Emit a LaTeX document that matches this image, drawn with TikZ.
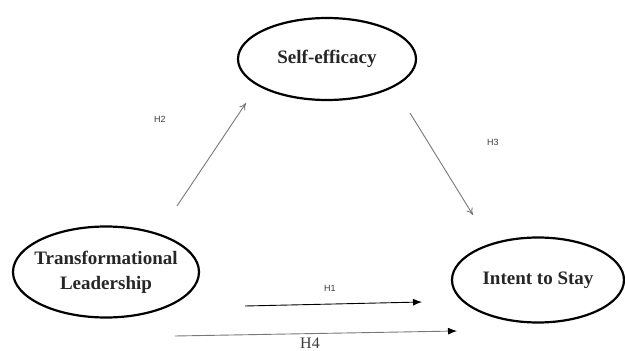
\documentclass[tikz,border=0pt]{standalone}
\usepackage{fontspec}
\setmainfont{Liberation Serif}
\newfontfamily\hlabelfont{Liberation Sans}
\usepackage{xcolor}
\definecolor{grisFlecha}{RGB}{120,120,120}
\definecolor{grisTexto}{RGB}{60,60,60}
\usepackage{tikz}
\usetikzlibrary{arrows.meta,shapes.geometric,calc,positioning}
\tikzstyle{construct}=[ellipse, draw, line width=2.2pt,
                    inner xsep=-14pt, inner ysep=0pt,
                    font=\fontsize{19}{25}\selectfont\bfseries,
                    text=black!85, align=center]
\tikzstyle{gedge}=[-{To[length=7pt,width=7pt]}, grisFlecha,
                    line width=0.9pt]
\tikzstyle{bedge}=[-{Latex[length=9pt,width=7pt,black]},
                    line width=0.9pt]
\tikzstyle{hlabel}=[font=\hlabelfont\fontsize{9}{10}\selectfont,
                    text=grisTexto, inner sep=0pt]

\begin{document}
\begin{tikzpicture}[x=1pt,y=-1pt]
    \useasboundingbox (0,0) rectangle (625,351);

    % constructos
    \node (trans)[construct, minimum width=186pt, minimum height=91pt]
        at (106,272) {Transformational\\Leadership};
    \node (self)[construct, minimum width=178pt, minimum height=82pt]
        at (327,59) {Self-efficacy};
    \node (intent)[construct, minimum width=172pt, minimum height=85pt]
        at (538,280) {Intent to Stay};

    % extremos de las flechas
    \foreach \n/\x/\y in {h2s/177/206, h2e/246/103, h3s/410/113, h3e/473/215,
                          h1s/245/306, h1e/422/302, h4s/175/336, h4e/457/331}
        \coordinate (\n) at (\x,\y);

    \foreach \i/\j in {h2s/h2e, h3s/h3e}
        \draw [gedge] (\i) to (\j);
    \draw [bedge] (h1s) to (h1e);
    \draw [bedge, draw=grisFlecha] (h4s) to (h4e);

    % hipotesis
    \node (lh1)[hlabel] at (330,288) {H1};
    \node (lh2)[hlabel] at (160,119) {H2};
    \node (lh3)[hlabel] at (493,142) {H3};
    \node (lh4)[font=\fontsize{16}{17}\selectfont, text=grisTexto,
        inner sep=0pt] at (310,343) {H4};

\end{tikzpicture}
\end{document}
